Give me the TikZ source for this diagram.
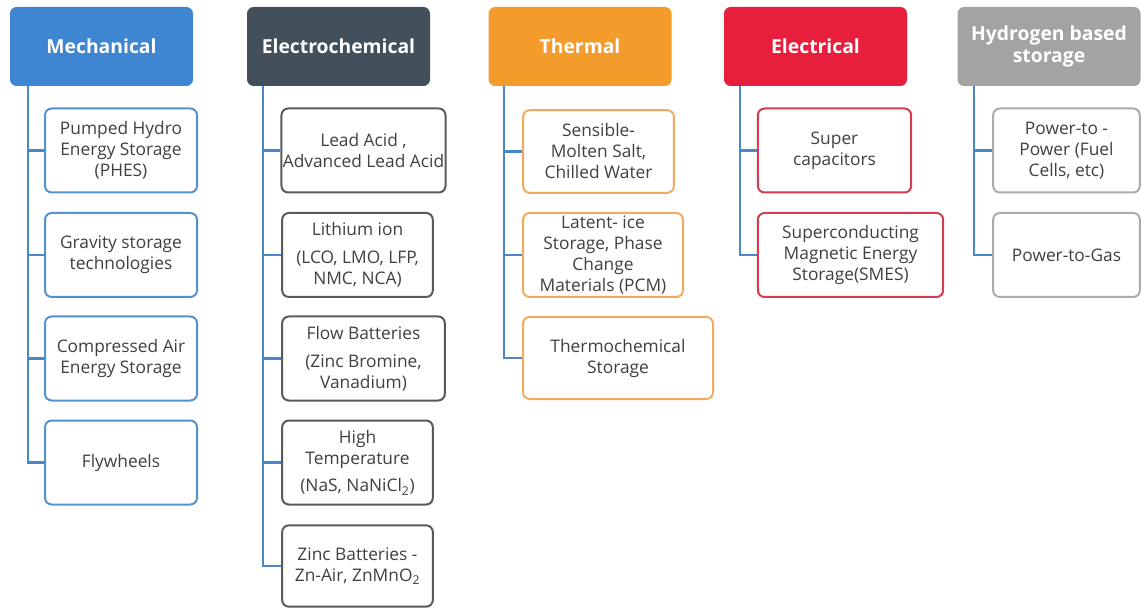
\documentclass[tikz,border=0pt]{standalone}
\usepackage{fontspec}
\setmainfont{Open Sans}
\definecolor{mechC}{HTML}{3E86D2}
\definecolor{echemC}{HTML}{444F5C}
\definecolor{thermC}{HTML}{F39C2C}
\definecolor{elecC}{HTML}{E81F3C}
\definecolor{hydC}{HTML}{A3A3A3}
\definecolor{mechB}{HTML}{5590D2}
\definecolor{echemB}{HTML}{5A5A5A}
\definecolor{thermB}{HTML}{F2AA5C}
\definecolor{elecB}{HTML}{D83A52}
\definecolor{hydB}{HTML}{ABABAB}
\definecolor{connC}{HTML}{4A87C8}
\definecolor{txtC}{HTML}{404040}
\tikzset{
  x=0.75pt, y=-0.75pt,
  header/.style={draw=none, rounded corners=5pt, text=white, align=center,
    minimum width=137.25pt, minimum height=59.25pt, inner sep=2pt,
    font=\fontsize{14.5}{16.5}\selectfont\bfseries},
  child/.style={draw=#1, line width=1.5pt, rounded corners=5pt, fill=white,
    text=txtC, align=center, inner sep=1pt, minimum height=63pt,
    font=\fontsize{13}{15.75}\selectfont},
  conn/.style={draw=connC, line width=1.6pt},
}
\begin{document}
\begin{tikzpicture}
\fill[white] (0,0) rectangle (1141,609);
\useasboundingbox (0,0) rectangle (1141,609);
% headers
\node[header, fill=mechC] (mech) at (101.5,46.5) {Mechanical};
\node[header, fill=echemC] (echem) at (338.5,46.5) {Electrochemical};
\node[header, fill=thermC] (therm) at (580,46.5) {Thermal};
\node[header, fill=elecC] (elec) at (815.5,46.5) {Electrical};
\node[header, fill=hydC] (hyd) at (1049,46.5) {Hydrogen based\\storage};
% trunk coordinates
\coordinate (mt) at ([xshift=13.5pt]mech.south west);
\coordinate (et) at ([xshift=12pt]echem.south west);
\coordinate (tt) at ([xshift=12pt]therm.south west);
\coordinate (ct) at ([xshift=12pt]elec.south west);
\coordinate (ht) at ([xshift=12.75pt]hyd.south west);
% mechanical
\node[child=mechB, minimum width=114pt] (m1) at (121,150.5) {Pumped Hydro\\Energy Storage\\(PHES)};
\node[child=mechB, minimum width=114pt] (m2) at (121,255) {Gravity storage\\technologies};
\node[child=mechB, minimum width=114pt] (m3) at (121,358.5) {Compressed Air\\Energy Storage};
\node[child=mechB, minimum width=114pt] (m4) at (121,462.5) {Flywheels};
% electrochemical
\node[child=echemB, minimum width=122pt] (e1) at (363.5,150.5) {Lead Acid ,\\Advanced Lead Acid};
\node[child=echemB, minimum width=113pt] (e2) at (357.5,255) {Lithium ion\\[5pt](LCO, LMO, LFP,\\NMC, NCA)};
\node[child=echemB, minimum width=122pt] (e3) at (363.5,358.5) {Flow Batteries\\[5pt](Zinc Bromine,\\Vanadium)};
\node[child=echemB, minimum width=113pt] (e4) at (357.5,462.5) {High\\Temperature\\[5pt](NaS, NaNiCl\textsubscript{2})};
\node[child=echemB, minimum width=113pt, minimum height=61pt] (e5) at (357.5,566) {Zinc Batteries -\\Zn-Air, ZnMnO\textsubscript{2}};
% thermal
\node[child=thermB, minimum width=113pt, minimum height=62pt] (t1) at (598.5,151.5) {Sensible-\\Molten Salt,\\Chilled Water};
\node[child=thermB, minimum width=120pt] (t2) at (603,255) {Latent- ice\\Storage, Phase\\Change\\Materials (PCM)};
\node[child=thermB, minimum width=142.5pt, minimum height=61.5pt] (t3) at (618,358) {Thermochemical\\Storage};
% electrical
\node[child=elecB, minimum width=115pt] (c1) at (834.5,150.5) {Super\\capacitors};
\node[child=elecB, minimum width=139pt] (c2) at (850.5,255) {Superconducting\\Magnetic Energy\\Storage(SMES)};
% hydrogen
\node[child=hydB, minimum width=110pt] (h1) at (1066.5,150.5) {Power-to -\\Power (Fuel\\Cells, etc)};
\node[child=hydB, minimum width=110pt] (h2) at (1066.5,255) {Power-to-Gas};
% connectors
\foreach \c in {m1,m2,m3,m4} \draw[conn] (mt) |- (\c.west);
\foreach \c in {e1,e2,e3,e4,e5} \draw[conn] (et) |- (\c.west);
\foreach \c in {t1,t2,t3} \draw[conn] (tt) |- (\c.west);
\foreach \c in {c1,c2} \draw[conn] (ct) |- (\c.west);
\foreach \c in {h1,h2} \draw[conn] (ht) |- (\c.west);
\end{tikzpicture}
\end{document}
